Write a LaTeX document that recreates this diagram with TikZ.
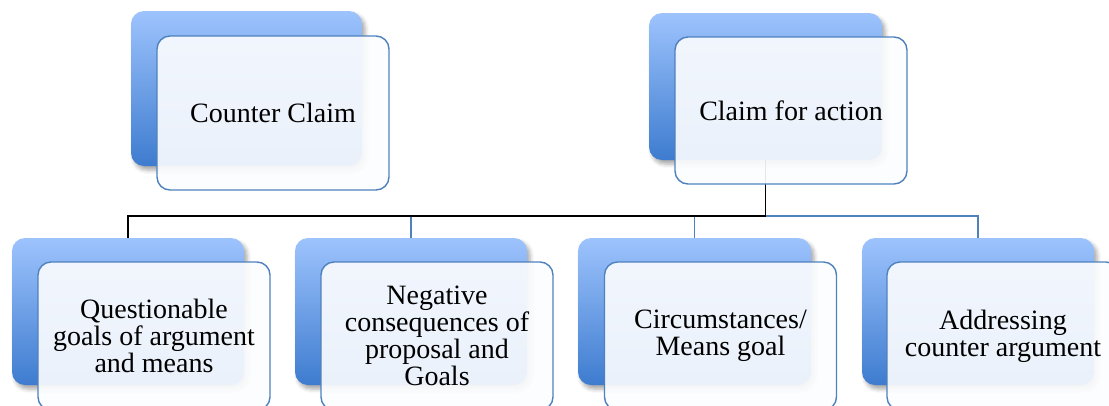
\documentclass[tikz,border=0pt]{standalone}
\usepackage{fontspec}
\setmainfont{Liberation Serif}
\usetikzlibrary{shadows.blur}
\definecolor{backtop}{RGB}{157,195,253}
\definecolor{backmid}{RGB}{130,172,238}
\definecolor{backbot}{RGB}{62,124,207}
\definecolor{frontfill}{RGB}{252,253,255}
\definecolor{edgeblue}{RGB}{79,129,189}
\tikzset{
  backbox/.style={rectangle, rounded corners=13pt, draw=none,
    top color=backtop, middle color=backmid, bottom color=backbot,
    blur shadow={shadow xshift=3pt, shadow yshift=-4pt, shadow blur radius=4pt, shadow opacity=35}},
  frontbox/.style={rectangle, rounded corners=13pt, draw=edgeblue, line width=1.4pt,
    fill=frontfill, fill opacity=0.91, text opacity=1, draw opacity=1,
    align=center, font=\fontsize{28pt}{27pt}\selectfont},
  blueline/.style={draw=edgeblue, line width=1.1pt},
  blackline/.style={draw=black, line width=1.8pt},
}
\begin{document}
\begin{tikzpicture}[x=1pt,y=-1pt]
\useasboundingbox (0,0) rectangle (1109,405);
% back boxes
\node[backbox, minimum width=231pt, minimum height=155pt] (bcc) at (246.5,88.5) {};
\node[backbox, minimum width=233pt, minimum height=147pt] (bcfa) at (765.5,86.5) {};
\node[backbox, minimum width=232pt, minimum height=147pt] (bq) at (128,311.5) {};
\node[backbox, minimum width=232pt, minimum height=147pt] (bn) at (411,311.5) {};
\node[backbox, minimum width=233pt, minimum height=147pt] (bc) at (694.5,311.5) {};
\node[backbox, minimum width=232pt, minimum height=147pt] (ba) at (978,311.5) {};
% connectors
\coordinate (j) at (765.5,216);
\draw[blueline] (j) -| (ba.north);
\draw[blueline] (bc.north) -- (bc.north |- j);
\draw[blueline] (bn.north) -- (bn.north |- j);
\draw[blackline] (bcfa.south) -- (j) -| (bq.north);
% front boxes
\node[frontbox, minimum width=232pt, minimum height=154pt] (fcc) at (273,113) {Counter Claim};
\node[frontbox, minimum width=232pt, minimum height=147pt] (fcfa) at (791,110.5) {Claim for action};
\node[frontbox, minimum width=232pt, minimum height=148pt] (fq) at (154,336) {Questionable\\goals of argument\\and means};
\node[frontbox, minimum width=232pt, minimum height=148pt] (fn) at (437,336) {Negative\\consequences of\\proposal and\\Goals};
\node[frontbox, minimum width=232pt, minimum height=148pt] (fc) at (720.5,336) {Circumstances/\\Means goal};
\node[frontbox, minimum width=232pt, minimum height=148pt] (fa) at (1003,336) {Addressing\\counter argument};
\end{tikzpicture}
\end{document}
